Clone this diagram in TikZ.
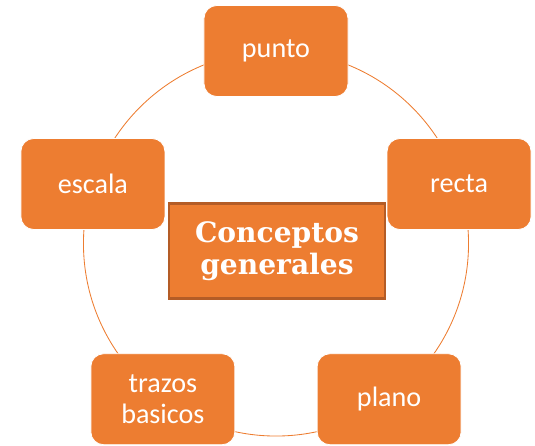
\documentclass[tikz,border=0pt]{standalone}
\usepackage{fontspec}
\setmainfont{Carlito}
\newfontfamily\slabfont{DejaVu Serif}
\usetikzlibrary{positioning,calc}
\definecolor{ringorange}{RGB}{237,125,49}
\definecolor{hubedge}{RGB}{180,92,38}

\begin{document}
\begin{tikzpicture}[
    x=0.025cm, y=0.025cm,
    concept/.style={rectangle, rounded corners=0.32cm, fill=ringorange, draw=white, line width=0.6pt, minimum width=3.6cm, minimum height=2.275cm, text=white, font=\fontsize{20}{22}\selectfont, align=center},
    hub/.style={rectangle, fill=ringorange, draw=hubedge, line width=2pt, minimum width=5.4cm, minimum height=2.38cm, text=white, font=\slabfont\bfseries\fontsize{20}{22.5}\selectfont, align=center},
    ring/.style={circle, draw=ringorange, line width=0.6pt, minimum size=9.625cm, inner sep=0pt}
]
\useasboundingbox (0,0) rectangle (535,446);

% Cycle behind the boxes
\node[ring] (ring) at (276,202.5) {};

% Outer concepts
\foreach \name/\ang/\txt in {punto/90/punto, recta/18/recta, plano/-54/plano, trazos/-126/{trazos\\basicos}, escala/162/escala}
  \node[concept] (\name) at ($(ring.center)+(\ang:192.5)$) {\txt};

% Centre
\node[hub] (hub) at (277,195) {Conceptos\\generales};

\end{tikzpicture}
\end{document}
